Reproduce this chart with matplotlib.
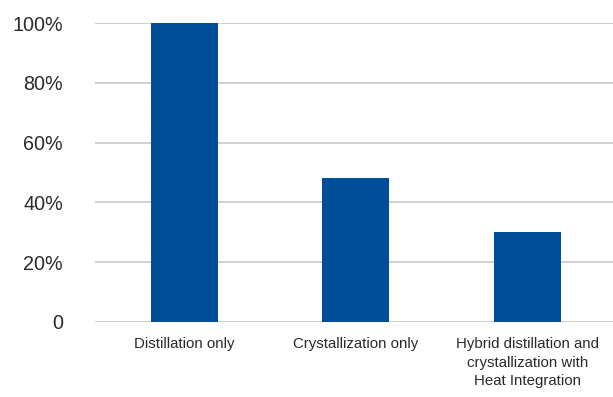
import matplotlib
matplotlib.use("Agg")
import matplotlib.pyplot as plt
from matplotlib.ticker import FuncFormatter

categories = ["Distillation only", "Crystallization only",
              "Hybrid distillation and\ncrystallization with\nHeat Integration"]
values = [100, 48, 30]
yticks = [0, 20, 40, 60, 80, 100]

plt.rcParams['font.family'] = ['Liberation Sans', 'DejaVu Sans']

fig = plt.figure(figsize=(6.13, 3.97), dpi=100)
ax = fig.add_axes([0.155, 0.189, 0.845, 0.753])

x = range(len(categories))
ax.bar(x, values, width=0.39, color="#004e9a", zorder=3)

ax.set_ylim(0, 100)
ax.set_xlim(-0.522, 2.5)
ax.set_yticks(yticks)
ax.yaxis.set_major_formatter(FuncFormatter(lambda v, p: "0" if v == 0 else f"{int(v)}%"))
ax.grid(axis="y", color="#c8c8c8", linewidth=1.2, zorder=0)
ax.set_axisbelow(True)

for s in ["top", "right", "left", "bottom"]:
    ax.spines[s].set_visible(False)

ax.set_xticks(list(x))
ax.set_xticklabels(categories, fontsize=10.8, color="#2a2a2a", linespacing=1.42)
ax.tick_params(axis="x", length=0, pad=11)
ax.tick_params(axis="y", length=0, pad=23, labelsize=14.2, labelcolor="#2a2a2a")

fig.savefig("out.png", dpi=100)
